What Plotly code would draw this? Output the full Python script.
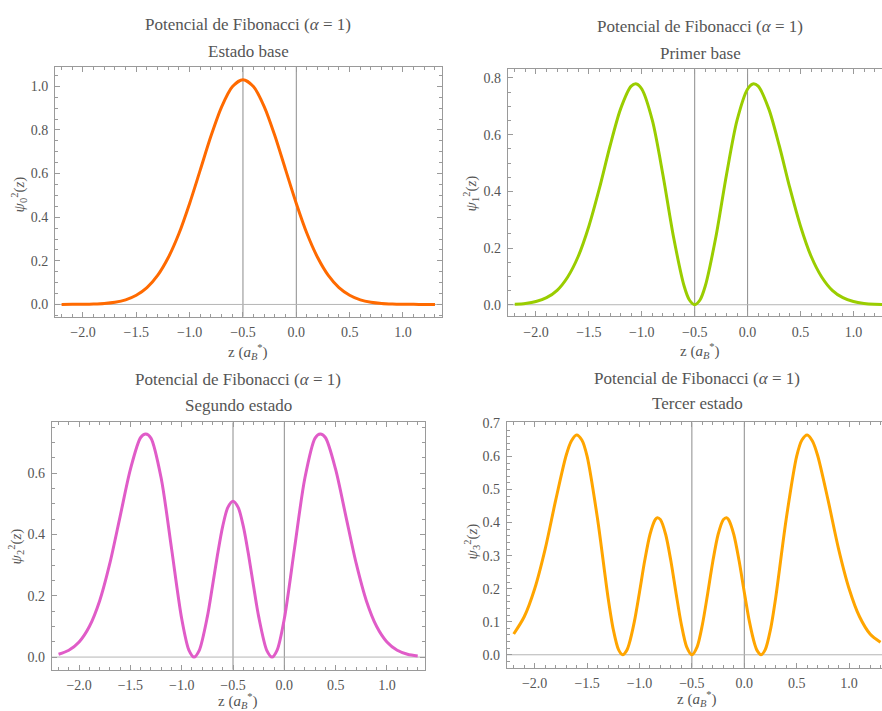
import plotly.graph_objects as go

# ---------------- data ----------------
title_main = "Potencial de Fibonacci (<i>α</i> = 1)"
subtitles = ["Estado base", "Primer base", "Segundo estado", "Tercer estado"]
x_label = "z (<i>a</i><sub><i>B</i></sub><sup>*</sup>)"
y_labels = [
    "<i>ψ</i><sub>0</sub><sup>2</sup>(<i>z</i>)",
    "<i>ψ</i><sub>1</sub><sup>2</sup>(<i>z</i>)",
    "<i>ψ</i><sub>2</sub><sup>2</sup>(<i>z</i>)",
    "<i>ψ</i><sub>3</sub><sup>2</sup>(<i>z</i>)",
]
colors = ["#FF6A00", "#9ACD00", "#E05CC8", "#FFA500"]
ref_x = [-0.5, 0.0]
ref_y = [0.0]

z0 = [-2.2, -2.1, -2.0, -1.9, -1.8, -1.7, -1.6, -1.5, -1.4, -1.3, -1.2, -1.1, -1.0, -0.9,
      -0.8, -0.7, -0.6, -0.5, -0.4, -0.3, -0.2, -0.1, 0.0, 0.1, 0.2, 0.3, 0.4, 0.5, 0.6,
      0.7, 0.8, 0.9, 1.0, 1.1, 1.2, 1.3]
psi0 = [0.0001, 0.0003, 0.0008, 0.002, 0.0045, 0.010, 0.021, 0.042, 0.077, 0.133, 0.215,
        0.325, 0.463, 0.617, 0.772, 0.906, 0.998, 1.03, 0.998, 0.906, 0.772, 0.617, 0.463,
        0.325, 0.215, 0.133, 0.077, 0.042, 0.021, 0.010, 0.0045, 0.002, 0.0008, 0.0003,
        0.0001, 0.00004]

z1 = [-2.2, -2.1, -2.0, -1.9, -1.8, -1.7, -1.6, -1.5, -1.4, -1.3, -1.2, -1.1, -1.05, -1.0,
      -0.9, -0.8, -0.7, -0.6, -0.55, -0.5, -0.45, -0.4, -0.3, -0.2, -0.1, 0.0, 0.05, 0.1,
      0.2, 0.3, 0.4, 0.5, 0.6, 0.7, 0.8, 0.9, 1.0, 1.1, 1.2, 1.3]
psi1 = [0.0019, 0.0048, 0.0113, 0.025, 0.051, 0.098, 0.171, 0.277, 0.411, 0.560, 0.691,
        0.771, 0.779, 0.761, 0.650, 0.458, 0.239, 0.066, 0.0168, 0.0, 0.0168, 0.066, 0.239,
        0.458, 0.650, 0.761, 0.779, 0.771, 0.691, 0.560, 0.411, 0.277, 0.171, 0.098, 0.051,
        0.025, 0.0113, 0.0048, 0.0019, 0.0007]

z2 = [-2.2, -2.1, -2.0, -1.9, -1.8, -1.7, -1.6, -1.5, -1.4, -1.35, -1.3, -1.2, -1.1, -1.0,
      -0.93, -0.88, -0.83, -0.75, -0.7, -0.65, -0.6, -0.55, -0.5, -0.45, -0.4, -0.35, -0.3,
      -0.25, -0.17, -0.12, -0.07, 0.0, 0.1, 0.2, 0.3, 0.35, 0.4, 0.5, 0.6, 0.7, 0.8, 0.9,
      1.0, 1.1, 1.2, 1.3]
psi2 = [0.0091, 0.0221, 0.0491, 0.0995, 0.183, 0.306, 0.459, 0.612, 0.716, 0.727, 0.714,
        0.583, 0.356, 0.125, 0.0229, 0.0, 0.0212, 0.132, 0.232, 0.336, 0.427, 0.488, 0.508,
        0.488, 0.427, 0.336, 0.232, 0.132, 0.0212, 0.0, 0.0229, 0.125, 0.356, 0.583, 0.714,
        0.727, 0.716, 0.612, 0.459, 0.306, 0.183, 0.0995, 0.0491, 0.0221, 0.0091, 0.0034]

z3 = [-2.2, -2.1, -2.0, -1.9, -1.8, -1.7, -1.65, -1.6, -1.55, -1.5, -1.4, -1.3, -1.25, -1.2,
      -1.16, -1.12, -1.1, -1.05, -1.0, -0.95, -0.9, -0.85, -0.83, -0.8, -0.75, -0.7, -0.65,
      -0.6, -0.55, -0.5, -0.45, -0.4, -0.35, -0.3, -0.25, -0.2, -0.17, -0.15, -0.1, -0.05,
      0.0, 0.05, 0.1, 0.12, 0.16, 0.2, 0.25, 0.3, 0.4, 0.5, 0.55, 0.6, 0.65, 0.7, 0.8, 0.9,
      1.0, 1.1, 1.2, 1.3]
psi3 = [0.063, 0.115, 0.20, 0.32, 0.467, 0.603, 0.647, 0.665, 0.650, 0.601, 0.411, 0.1735,
        0.0765, 0.0156, 0.0, 0.0141, 0.0313, 0.0987, 0.1895, 0.285, 0.364, 0.409, 0.415,
        0.409, 0.364, 0.283, 0.184, 0.0908, 0.0241, 0.0, 0.0241, 0.0908, 0.184, 0.283,
        0.364, 0.409, 0.415, 0.409, 0.364, 0.285, 0.1895, 0.0987, 0.0313, 0.0141, 0.0,
        0.0156, 0.0765, 0.1735, 0.411, 0.601, 0.650, 0.665, 0.647, 0.603, 0.467, 0.32,
        0.20, 0.115, 0.063, 0.038]

series_x = [z0, z1, z2, z3]
series_y = [psi0, psi1, psi2, psi3]

# ---------------- layout (pixel geometry) ----------------
W, H = 882, 711
FONT = "Liberation Serif, Tinos, Times New Roman, serif"
TXT = "#555555"
FRAME = "#9a9a9a"

panels = [
    dict(px=(55, 441.7), py=(61.3, 313.3), xr=(-2.262, 1.363), yr=(-0.056, 1.0895),
         ydt=0.2, ymin=0.05, mirror_y="allticks",
         title_xy=(248, 19), sub_y=46, xl_y=349, yl_xy=(19, 190)),
    dict(px=(507.7, 882), py=(64, 312.7), xr=(-2.267, 1.270), yr=(-0.0399, 0.830),
         ydt=0.2, ymin=0.05, mirror_y=False,
         title_xy=(700, 21), sub_y=48, xl_y=348, yl_xy=(471, 189)),
    dict(px=(51.7, 425), py=(420, 669.3), xr=(-2.267, 1.371), yr=(-0.041, 0.765),
         ydt=0.2, ymin=0.05, mirror_y="allticks",
         title_xy=(238, 377), sub_y=403, xl_y=701, yl_xy=(16, 545)),
    dict(px=(506.7, 882), py=(420, 667.3), xr=(-2.267, 1.314), yr=(-0.039, 0.703),
         ydt=0.1, ymin=0.02, mirror_y=False,
         title_xy=(697, 376), sub_y=401, xl_y=699, yl_xy=(472, 540)),
]

fig = go.Figure()
annotations = []
for i, p in enumerate(panels):
    n = "" if i == 0 else str(i + 1)
    xa = "x" + n
    ya = "y" + n
    fig.add_trace(go.Scatter(x=series_x[i], y=series_y[i], mode="lines",
                             line=dict(color=colors[i], width=3, shape="spline", smoothing=0.8),
                             xaxis=xa, yaxis=ya, showlegend=False, hoverinfo="x+y"))
    xd = [p["px"][0] / W, p["px"][1] / W]
    yd = [1 - p["py"][1] / H, 1 - p["py"][0] / H]
    fig.layout["xaxis" + n] = dict(
        domain=xd, range=list(p["xr"]), anchor=ya, showgrid=False, zeroline=False,
        showline=True, linecolor=FRAME, linewidth=1, mirror="allticks",
        ticks="inside", ticklen=5, tickcolor=FRAME, dtick=0.5, tick0=0,
        tickformat=".1f", tickfont=dict(family=FONT, size=14, color=TXT),
        ticklabelstandoff=3,
        minor=dict(ticks="inside", dtick=0.1, tick0=0, ticklen=3, tickcolor=FRAME, showgrid=False),
    )
    fig.layout["yaxis" + n] = dict(
        domain=yd, range=list(p["yr"]), anchor=xa, showgrid=False, zeroline=False,
        showline=True, linecolor=FRAME, linewidth=1, mirror=p["mirror_y"],
        ticks="inside", ticklen=5, tickcolor=FRAME, dtick=p["ydt"], tick0=0,
        tickformat=".1f", tickfont=dict(family=FONT, size=14, color=TXT),
        ticklabelstandoff=3,
        minor=dict(ticks="inside", dtick=p["ymin"], tick0=0, ticklen=3, tickcolor=FRAME, showgrid=False),
    )
    for v in ref_x:
        fig.add_shape(type="line", xref=xa, yref=ya + " domain", x0=v, x1=v, y0=0, y1=1,
                      line=dict(color="#8c8c8c", width=1), layer="below")
    for v in ref_y:
        fig.add_shape(type="line", xref=xa + " domain", yref=ya, x0=0, x1=1, y0=v, y1=v,
                      line=dict(color="#b5b5b5", width=1), layer="below")
    tx, ty = p["title_xy"]
    annotations.append(dict(text=title_main, x=tx / W, y=1 - ty / H, xref="paper", yref="paper",
                            showarrow=False, xanchor="center", yanchor="middle",
                            font=dict(family=FONT, size=17, color=TXT)))
    annotations.append(dict(text=subtitles[i], x=tx / W, y=1 - p["sub_y"] / H, xref="paper",
                            yref="paper", showarrow=False, xanchor="center", yanchor="middle",
                            font=dict(family=FONT, size=17, color=TXT)))
    annotations.append(dict(text=x_label, x=tx / W, y=1 - p["xl_y"] / H, xref="paper",
                            yref="paper", showarrow=False, xanchor="center", yanchor="middle",
                            font=dict(family=FONT, size=15, color=TXT)))
    lx, ly = p["yl_xy"]
    annotations.append(dict(text=y_labels[i], x=lx / W, y=1 - ly / H, xref="paper",
                            yref="paper", showarrow=False, xanchor="center", yanchor="middle",
                            textangle=-90, font=dict(family=FONT, size=15, color=TXT)))

fig.update_layout(width=W, height=H, margin=dict(l=0, r=0, t=0, b=0),
                  plot_bgcolor="white", paper_bgcolor="white", annotations=annotations)
fig.write_html("out.html")
